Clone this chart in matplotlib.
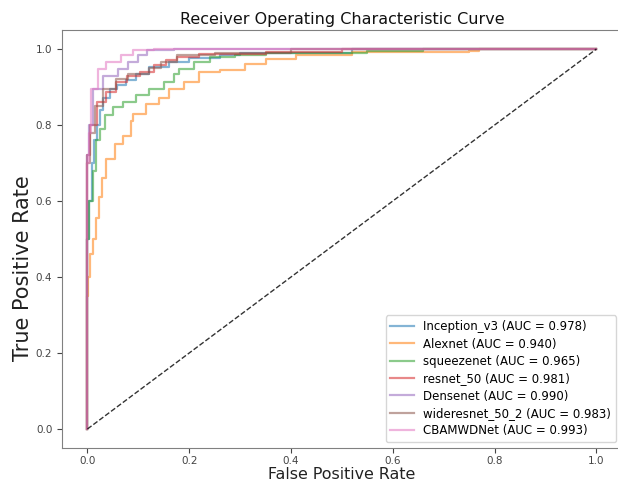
import matplotlib
matplotlib.use("Agg")
import matplotlib.pyplot as plt

# ---- data ----
models = ["Inception_v3", "Alexnet", "squeezenet", "resnet_50",
          "Densenet", "wideresnet_50_2", "CBAMWDNet"]
aucs = [0.978, 0.940, 0.965, 0.981, 0.990, 0.983, 0.993]

fpr_inception = [0, 0, 0.004, 0.008, 0.012, 0.018, 0.024, 0.031, 0.045, 0.058, 0.075, 0.095, 0.12, 0.16, 0.20, 0.26, 0.30, 0.52, 1.0]
tpr_inception = [0, 0.50, 0.60, 0.70, 0.76, 0.80, 0.84, 0.87, 0.895, 0.905, 0.918, 0.934, 0.953, 0.966, 0.976, 0.984, 0.99, 1.0, 1.0]

fpr_alexnet = [0, 0, 0.002, 0.006, 0.010, 0.016, 0.022, 0.028, 0.037, 0.055, 0.07, 0.085, 0.09, 0.115, 0.14, 0.16, 0.19, 0.22, 0.26, 0.31, 0.35, 0.41, 0.52, 0.75, 0.77, 1.0]
tpr_alexnet = [0, 0.35, 0.40, 0.46, 0.50, 0.555, 0.61, 0.66, 0.71, 0.75, 0.77, 0.81, 0.83, 0.855, 0.87, 0.895, 0.913, 0.94, 0.945, 0.96, 0.974, 0.984, 0.992, 0.995, 1.0, 1.0]

fpr_squeeze = [0, 0, 0.004, 0.010, 0.016, 0.025, 0.035, 0.05, 0.07, 0.096, 0.12, 0.15, 0.17, 0.18, 0.21, 0.24, 0.29, 0.35, 0.55, 0.66, 1.0]
tpr_squeeze = [0, 0.50, 0.60, 0.68, 0.76, 0.79, 0.826, 0.847, 0.86, 0.88, 0.895, 0.913, 0.934, 0.947, 0.966, 0.979, 0.984, 0.99, 0.995, 1.0, 1.0]

fpr_resnet = [0, 0, 0.006, 0.018, 0.037, 0.057, 0.077, 0.104, 0.13, 0.155, 0.175, 0.22, 0.35, 0.50, 1.0]
tpr_resnet = [0, 0.72, 0.80, 0.86, 0.887, 0.913, 0.93, 0.94, 0.958, 0.97, 0.979, 0.987, 0.992, 1.0, 1.0]

fpr_dense = [0, 0, 0.003, 0.010, 0.031, 0.061, 0.08, 0.10, 0.118, 0.17, 1.0]
tpr_dense = [0, 0.72, 0.80, 0.895, 0.93, 0.947, 0.966, 0.984, 0.997, 1.0, 1.0]

fpr_wide = [0, 0, 0.005, 0.015, 0.031, 0.057, 0.08, 0.12, 0.145, 0.175, 0.25, 0.40, 1.0]
tpr_wide = [0, 0.70, 0.78, 0.85, 0.895, 0.92, 0.935, 0.95, 0.966, 0.984, 0.99, 1.0, 1.0]

fpr_cbam = [0, 0, 0.003, 0.007, 0.021, 0.037, 0.065, 0.09, 0.13, 1.0]
tpr_cbam = [0, 0.70, 0.78, 0.895, 0.947, 0.966, 0.984, 0.997, 1.0, 1.0]

fprs = [fpr_inception, fpr_alexnet, fpr_squeeze, fpr_resnet, fpr_dense, fpr_wide, fpr_cbam]
tprs = [tpr_inception, tpr_alexnet, tpr_squeeze, tpr_resnet, tpr_dense, tpr_wide, tpr_cbam]
colors = ["tab:blue", "tab:orange", "tab:green", "tab:red", "tab:purple", "tab:brown", "tab:pink"]

fig = plt.figure(figsize=(6.18, 4.83), dpi=100)
ax = fig.add_axes([0.1003, 0.0725, 0.906, 0.8654])

for f, t, m, a, c in zip(fprs, tprs, models, aucs, colors):
    ax.step(f, t, where="post", color=c, alpha=0.55, lw=1.6,
            label=f"{m} (AUC = {a:.3f})")

ax.plot([0, 1], [0, 1], "k--", lw=1, alpha=0.8)

ax.set_xticks([0, 0.2, 0.4, 0.6, 0.8, 1.0])
ax.set_yticks([0, 0.2, 0.4, 0.6, 0.8, 1.0])
ax.tick_params(labelsize=7.5, colors="#444", length=3.5)
ax.tick_params(axis="x", pad=2.5)
for s in ax.spines.values():
    s.set_color("#808080")
ax.spines["right"].set_visible(False)

ax.set_title("Receiver Operating Characteristic Curve", fontsize=11.5, color="#111", pad=4)
ax.set_xlabel("False Positive Rate", fontsize=11.4, color="#222", labelpad=0.5)
ax.set_ylabel("True Positive Rate", fontsize=15, color="#222")
ax.yaxis.set_label_coords(-0.052, 0.43)

ax.legend(loc="lower right", fontsize=8.5, labelspacing=0.37, frameon=True,
          borderaxespad=0.5)

fig.savefig("out.png", dpi=100)
